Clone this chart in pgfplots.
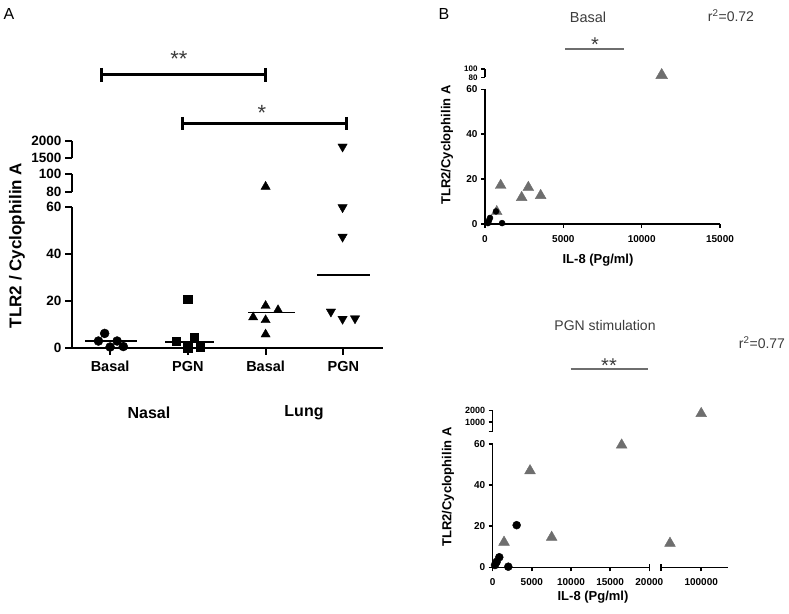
\documentclass[border=0pt]{standalone}
\usepackage{pgfplots}
\pgfplotsset{compat=1.18}
\usepackage{fontspec}
\setmainfont{Liberation Sans}
\definecolor{tri}{RGB}{110,110,110}
\definecolor{dg}{RGB}{60,60,60}
\pgfplotsset{
  common/.style={scale only axis, clip=false, tick align=outside, tick pos=left,
    /pgf/number format/assume math mode=true, /pgf/number format/fixed, /pgf/number format/1000 sep={}, scaled ticks=false,
    anchor=south west},
  A/.style={common, xmin=-0.49, xmax=3.51, width=311pt,
    axis line style={line width=2pt}, major tick style={line width=2pt,black}, major tick length=7pt,
    yticklabel style={font=\bfseries\fontsize{13.5}{15}\selectfont},
    xticklabel style={font=\bfseries\fontsize{14.5}{16}\selectfont, yshift=-3pt}},
  B/.style={common, axis line style={line width=1.5pt}, major tick style={line width=1.5pt,black}, major tick length=4pt,
    yticklabel style={font=\bfseries\fontsize{10}{11}\selectfont},
    xticklabel style={font=\bfseries\fontsize{10}{11}\selectfont, yshift=-4pt}},
}
\begin{document}
\begin{tikzpicture}[x=1pt,y=1pt]
\path[use as bounding box] (0,0) rectangle (789,613);
% ---------------- Panel A ----------------
\begin{axis}[A, at={(72pt,265.3pt)}, height=140.4pt, ymin=0, ymax=60,
  axis x line*=bottom, axis y line*=left, ytick={0,20,40,60},
  xtick={0,1,2,3}, xticklabels={Basal,PGN,Basal,PGN}]
\addplot[only marks, mark=*, mark size=4.5pt, black] coordinates {(-0.07,6.1) (-0.15,2.85) (0,0.3) (0.09,2.85) (0.17,0.5)};
\addplot[only marks, mark=square*, mark size=4.2pt, black] coordinates {(1.0,20.8) (0.85,2.85) (1.08,4.4) (1.0,0.0) (1.16,0.3)};
\addplot[only marks, mark=triangle*, mark size=5.3pt, black] coordinates {(2,17.9) (2.16,16.1) (1.84,13.0) (2,11.8) (2,5.7)};
\addplot[only marks, mark=triangle*, mark options={rotate=180}, mark size=5.4pt, black] coordinates {(2.99,60) (2.99,47.4) (2.84,15.4) (2.99,12.3) (3.15,12.5)};
\addplot[line width=1.8pt, black] coordinates {(-0.32,2.85) (0.35,2.85)};
\addplot[line width=1.8pt, black] coordinates {(0.71,2.5) (1.33,2.5)};
\addplot[line width=1.8pt, black] coordinates {(1.78,15.0) (2.38,15.0)};
\addplot[line width=1.8pt, black] coordinates {(2.66,31.0) (3.34,31.0)};
\end{axis}
\begin{axis}[A, at={(72pt,421.3pt)}, height=17.7pt, ymin=80, ymax=100,
  axis x line=none, axis y line*=left, ytick={80,100}, xtick=\empty]
\addplot[only marks, mark=triangle*, mark size=5.3pt, black] coordinates {(2,85.7)};
\end{axis}
\begin{axis}[A, at={(72pt,454.7pt)}, height=17.6pt, ymin=1500, ymax=2000,
  axis x line=none, axis y line*=left, ytick={1500,2000}, xtick=\empty]
\addplot[only marks, mark=triangle*, mark options={rotate=180}, mark size=5.4pt, black] coordinates {(2.99,1830)};
\end{axis}
\node[rotate=90, font=\bfseries\fontsize{17}{19}\selectfont] at (17,367.5) {TLR2 / Cyclophilin A};
\node[font=\bfseries\fontsize{16}{18}\selectfont] at (149,200) {Nasal};
\node[font=\bfseries\fontsize{16}{18}\selectfont] at (304,200) {Lung};
\node[font=\fontsize{16}{18}\selectfont] at (9,599) {A};
\draw[line width=3pt] (101,538) -- (265.7,538);
\draw[line width=3pt] (101,545) -- (101,531);
\draw[line width=3pt] (265.7,545) -- (265.7,531);
\node[anchor=base, font=\fontsize{22}{24}\selectfont, text=dg, inner sep=0pt] at (179,546) {**};
\draw[line width=3pt] (182,489.5) -- (346,489.5);
\draw[line width=3pt] (182,496) -- (182,483);
\draw[line width=3pt] (346,496) -- (346,483);
\node[anchor=base, font=\fontsize{22}{24}\selectfont, text=dg, inner sep=0pt] at (262,492) {*};
% ---------------- Panel B top ----------------
\begin{axis}[B, at={(485pt,389pt)}, width=235pt, height=134.7pt, xmin=0, xmax=15000, ymin=0, ymax=60,
  axis x line*=bottom, axis y line*=left, xtick={0,5000,10000,15000}, ytick={0,20,40,60}]
\addplot[only marks, mark=triangle*, mark size=6.2pt, tri] coordinates {(1000,17.2) (2766,16.3) (2340,11.8) (3553,12.7) (750,5.5)};
\addplot[only marks, mark=*, mark size=3pt, black] coordinates {(700,5.6) (320,2.7) (190,0.4) (1090,0.4) (250,1.5)};
\end{axis}
\begin{axis}[B, at={(485pt,535.7pt)}, width=235pt, height=8.3pt, xmin=0, xmax=15000, ymin=80, ymax=100,
  axis x line=none, axis y line*=left, xtick=\empty, ytick={80,100},
  yticklabel style={font=\bfseries\fontsize{8}{9}\selectfont}]
\addplot[only marks, mark=triangle*, mark size=6.8pt, tri] coordinates {(11277,85)};
\end{axis}
\node[rotate=90, font=\bfseries\fontsize{13}{15}\selectfont] at (447,468) {TLR2/Cyclophilin A};
\node[font=\bfseries\fontsize{13}{15}\selectfont] at (598,353) {IL-8 (Pg/ml)};
\node[font=\fontsize{14.5}{16}\selectfont, text=dg] at (588,596) {Basal};
\node[font=\fontsize{14}{16}\selectfont, text=dg] at (731,597) {r\textsuperscript{2}=0.72};
\draw[line width=1.3pt, tri] (565,564) -- (624,564);
\node[anchor=base, font=\fontsize{20}{22}\selectfont, text=dg, inner sep=0pt] at (595,561) {*};
\node[font=\fontsize{16}{18}\selectfont] at (444,599) {B};
% ---------------- Panel B bottom ----------------
\begin{axis}[B, at={(492.7pt,45.7pt)}, width=156.6pt, height=123.3pt, xmin=0, xmax=20000, ymin=0, ymax=60,
  axis x line*=bottom, axis y line*=left, xtick={0,5000,10000,15000,20000}, ytick={0,20,40,60},
  extra x ticks={20000}, extra x tick labels={}, extra x tick style={tick align=center, major tick length=7pt}]
\addplot[only marks, mark=triangle*, mark size=6.2pt, tri] coordinates {(16467,59.5) (4766,47) (7530,14.6) (1447,12.2)};
\addplot[only marks, mark=*, mark size=4pt, black] coordinates {(3060,20.5) (840,4.9) (510,2.7) (290,1.1) (1990,0.3)};
\end{axis}
\begin{axis}[B, at={(661pt,45.7pt)}, width=67pt, height=123.3pt, xmin=70000, xmax=120000, ymin=0, ymax=60,
  axis x line*=bottom, axis y line=none, xtick={100000}, xticklabels={100000}, ytick=\empty,
  extra x ticks={70000}, extra x tick labels={}, extra x tick style={tick align=center, major tick length=7pt}]
\addplot[only marks, mark=triangle*, mark size=6.2pt, tri] coordinates {(76700,11.7)};
\end{axis}
\begin{axis}[B, at={(492.7pt,181.3pt)}, width=156.6pt, height=21pt, xmin=0, xmax=20000, ymin=150, ymax=2000,
  axis x line=none, axis y line*=left, xtick=\empty, ytick={1000,2000},
  extra y ticks={150}, extra y tick labels={}, yticklabel style={font=\bfseries\fontsize{9}{10}\selectfont}]
\end{axis}
\begin{axis}[B, at={(661pt,181.3pt)}, width=67pt, height=21pt, xmin=70000, xmax=120000, ymin=150, ymax=2000, hide axis]
\addplot[only marks, mark=triangle*, mark size=6.2pt, tri] coordinates {(100000,1750)};
\end{axis}
\node[rotate=90, font=\bfseries\fontsize{13}{15}\selectfont] at (448,126) {TLR2/Cyclophilin A};
\node[font=\bfseries\fontsize{13}{15}\selectfont] at (593,16) {IL-8 (Pg/ml)};
\node[font=\fontsize{14}{16}\selectfont, text=dg] at (605,288) {PGN stimulation};
\node[font=\fontsize{14}{16}\selectfont, text=dg] at (762,270) {r\textsuperscript{2}=0.77};
\draw[line width=1.3pt, tri] (570.7,244) -- (648.3,244);
\node[anchor=base, font=\fontsize{20}{22}\selectfont, text=dg, inner sep=0pt] at (609,240) {**};
\end{tikzpicture}
\end{document}
